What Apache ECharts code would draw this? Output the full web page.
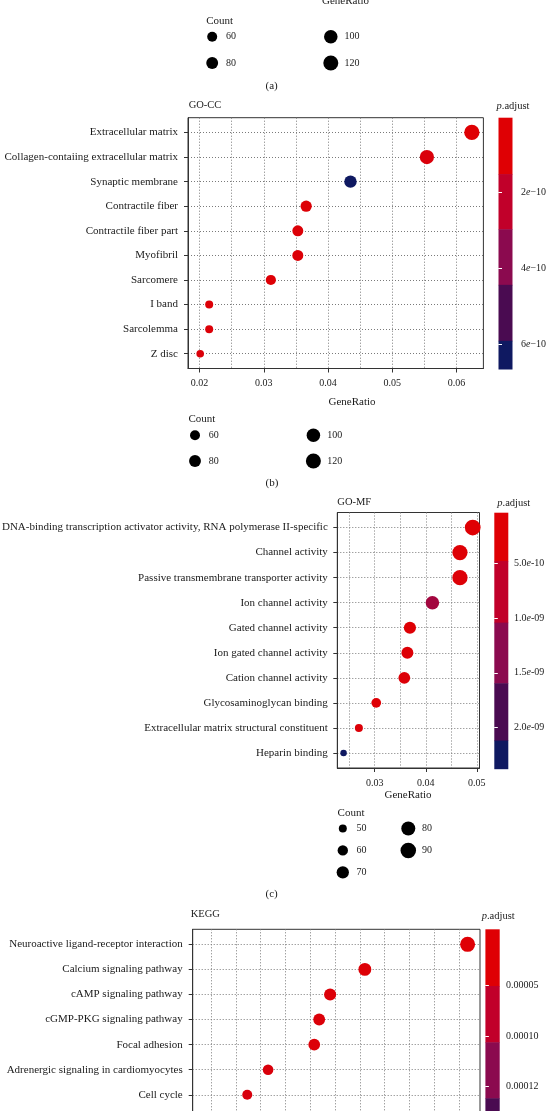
<!DOCTYPE html>
<html><head><meta charset="utf-8">
<script src="https://cdn.jsdelivr.net/npm/echarts@6/dist/echarts.min.js"></script>
<style>html,body{margin:0;padding:0;background:#fff}#c{width:548px;height:1111px}</style>
</head><body><div id="c"></div>
<script>
// ---------------- DATA ----------------
// (a) only the size legend of panel (a) is visible
const aCountLegend = [60, 80, 100, 120];

// (b) GO-CC
const ccTerms = ['Extracellular matrix','Collagen-contaiing extracellular matrix','Synaptic membrane','Contractile fiber','Contractile fiber part','Myofibril','Sarcomere','I band','Sarcolemma','Z disc'];
const ccRatio = [0.0624, 0.0554, 0.0435, 0.0366, 0.0353, 0.0353, 0.0311, 0.0215, 0.0215, 0.0201];
const ccCount = [124, 110, 86, 73, 70, 70, 62, 43, 43, 40];
const ccPadj  = [5e-12, 3.5e-11, 6.65e-10, 1.5e-11, 2.0e-11, 2.0e-11, 1.2e-11, 1.8e-11, 2.2e-11, 2.5e-11];
const ccPLimits = [5e-12, 6.65e-10];
const ccXTicks = [0.02, 0.03, 0.04, 0.05, 0.06];
const ccXGrid = [0.02, 0.025, 0.03, 0.035, 0.04, 0.045, 0.05, 0.055, 0.06];
const ccPTicks = [2e-10, 4e-10, 6e-10];
const ccPTickLabels = ['2e\u221210', '4e\u221210', '6e\u221210'];
const ccBandEdges = [5e-12, 1.53e-10, 2.98e-10, 4.44e-10, 5.91e-10, 6.65e-10];
const ccCountLegend = [60, 80, 100, 120];

// (c) GO-MF
const mfTerms = ['DNA-binding transcription activator activity, RNA polymerase II-specific','Channel activity','Passive transmembrane transporter activity','Ion channel activity','Gated channel activity','Ion gated channel activity','Cation channel activity','Glycosaminoglycan binding','Extracellular matrix structural constituent','Heparin binding'];
const mfRatio = [0.0492, 0.0467, 0.0467, 0.0413, 0.0369, 0.0364, 0.0358, 0.0303, 0.0269, 0.0239];
const mfCount = [92, 88, 88, 77, 69, 68, 67, 57, 50, 45];
const mfPadj  = [3.7e-11, 6e-11, 8e-11, 9.5e-10, 5e-11, 7e-11, 9e-11, 4.5e-11, 1.0e-10, 2.377e-9];
const mfPLimits = [3.7e-11, 2.377e-9];
const mfXTicks = [0.03, 0.04, 0.05];
const mfXGrid = [0.025, 0.03, 0.035, 0.04, 0.045, 0.05];
const mfPTicks = [5e-10, 1e-9, 1.5e-9, 2e-9];
const mfPTickLabels = ['5.0e-10', '1.0e-09', '1.5e-09', '2.0e-09'];
const mfBandEdges = [3.7e-11, 4.78e-10, 1.042e-9, 1.596e-9, 2.12e-9, 2.377e-9];
const mfCountLegend = [50, 60, 70, 80, 90];

// (d) KEGG (lower part cut off by the picture)
const keggTerms = ['Neuroactive ligand-receptor interaction','Calcium signaling pathway','cAMP signaling pathway','cGMP-PKG signaling pathway','Focal adhesion','Adrenergic signaling in cardiomyocytes','Cell cycle'];
const keggRatio = [0.0667, 0.0460, 0.0390, 0.0368, 0.0358, 0.0265, 0.0223];
const keggCount = [60, 41, 35, 33, 32, 24, 20];
const keggPadj  = [1e-6, 4e-6, 6e-6, 8e-6, 7e-6, 1.2e-5, 1.5e-5];
const keggPLimits = [-5.1e-6, 2.47e-4];
const keggXTicks = [0.02, 0.03, 0.04, 0.05, 0.06];
const keggXGrid = [0.015, 0.02, 0.025, 0.03, 0.035, 0.04, 0.045, 0.05, 0.055, 0.06, 0.065];
const keggPTicks = [5e-5, 1e-4, 1.5e-4];
const keggPTickLabels = ['0.00005', '0.00010', '0.00012'];
const keggBandEdges = [-5.1e-6, 5.08e-5, 1.063e-4, 1.615e-4, 2.168e-4, 2.47e-4];

// ---------------- STYLE ----------------
const FONT = '"Liberation Serif","DejaVu Serif",serif';
const BAND_COLORS = ['#DF0004', '#C1002A', '#8B0A4F', '#4A0B51', '#0F1961'];
const TXT = '#1a1a1a';
const GRIDLINE = {show: true, lineStyle: {color: '#7a7a7a', width: 1, type: [1, 2]}};

const option = {animation: false, backgroundColor: '#fff', textStyle: {fontFamily: FONT},
  grid: [], xAxis: [], yAxis: [], series: [], visualMap: [], graphic: []};
const addGrid = g => (option.grid.push(Object.assign({outerBoundsMode: 'none', containLabel: false}, g)), option.grid.length - 1);
const addX = a => (option.xAxis.push(a), option.xAxis.length - 1);
const addY = a => (option.yAxis.push(a), option.yAxis.length - 1);
const sizeFn = (A, B) => c => Math.sqrt(Math.max(A + B * c, 9));

function dotPanel(p) {
  const gi = addGrid({left: p.box[0], top: p.box[1], width: p.box[2], height: p.box[3], show: true,
    borderColor: '#333', borderWidth: 1, backgroundColor: 'rgba(0,0,0,0)'});
  const xi = addX({type: 'value', gridIndex: gi, min: p.xRange[0], max: p.xRange[1], position: 'bottom',
    axisLine: {show: true, onZero: false, lineStyle: {color: '#333', width: 1}},
    axisTick: {show: true, length: 4, customValues: p.xTicks, lineStyle: {color: '#333', width: 1}},
    axisLabel: {show: true, customValues: p.xTicks, margin: 10, color: TXT, fontFamily: FONT, fontSize: 10,
      formatter: v => v.toFixed(2)},
    splitLine: {show: false}});
  addX({type: 'value', gridIndex: gi, min: p.xRange[0], max: p.xRange[1], position: 'top',
    axisLine: {show: false}, axisTick: {show: false, customValues: p.xGrid},
    axisLabel: {show: false, customValues: p.xGrid}, splitLine: GRIDLINE});
  const idx = p.terms.map((t, i) => i);
  const yi = addY({type: 'value', gridIndex: gi, inverse: true, min: -0.6, max: p.slots - 0.4, position: 'left',
    axisLine: {show: true, onZero: false, lineStyle: {color: '#333', width: 1}},
    axisTick: {show: true, length: 4, customValues: idx, lineStyle: {color: '#333', width: 1}},
    axisLabel: {show: true, customValues: idx, margin: p.yMargin, color: TXT, fontFamily: FONT, fontSize: 11,
      formatter: v => p.terms[Math.round(v)]},
    splitLine: GRIDLINE});
  option.series.push({type: 'scatter', xAxisIndex: xi, yAxisIndex: yi, z: 4, clip: false,
    data: p.ratio.map((r, i) => [r, i, p.padj[i], p.count[i]]),
    symbolSize: d => p.size(d[3]), itemStyle: {opacity: 1}});
  option.visualMap.push({type: 'continuous', show: false, seriesIndex: option.series.length - 1, dimension: 2,
    min: p.pLimits[0], max: p.pLimits[1], inRange: {color: BAND_COLORS}});
}

function richLabel(s) {
  const k = s.indexOf('e');
  if (k < 0) return '{n|' + s + '}';
  return '{n|' + s.slice(0, k) + '}{i|e}{n|' + s.slice(k + 1) + '}';
}
function idxOf(arr, v) {
  for (let i = 0; i < arr.length; i++) if (Math.abs(arr[i] - v) <= Math.abs(arr[i]) * 1e-6) return i;
  return -1;
}

function colorbar(p) {
  const gi = addGrid({left: p.box[0], top: p.box[1], width: p.box[2], height: p.box[3], show: false});
  const xi = addX({type: 'value', gridIndex: gi, min: 0, max: 1, show: false});
  const tick = {show: true, inside: true, length: 3.5, customValues: p.ticks, lineStyle: {color: '#fff', width: 1}};
  const yR = addY({type: 'value', gridIndex: gi, inverse: true, min: p.limits[0], max: p.limits[1], position: 'right', z: 6,
    axisLine: {show: false}, axisTick: tick, splitLine: {show: false},
    axisLabel: {show: true, customValues: p.ticks, margin: p.labelMargin,
      formatter: v => { const i = idxOf(p.ticks, v); return i < 0 ? '' : richLabel(p.labels[i]); },
      rich: {n: {fontFamily: FONT, fontSize: 10, color: TXT}, i: {fontFamily: FONT, fontSize: 10, color: TXT, fontStyle: 'italic'}}}});
  addY({type: 'value', gridIndex: gi, inverse: true, min: p.limits[0], max: p.limits[1], position: 'left', z: 6,
    axisLine: {show: false}, axisTick: tick, axisLabel: {show: false, customValues: p.ticks}, splitLine: {show: false}});
  const bands = [];
  for (let i = 0; i < p.edges.length - 1; i++) bands.push([p.edges[i], p.edges[i + 1], i]);
  option.series.push({type: 'custom', xAxisIndex: xi, yAxisIndex: yR, z: 2, data: bands,
    renderItem: (params, api) => {
      const a = api.coord([0, api.value(0)]);
      const b = api.coord([1, api.value(1)]);
      return {type: 'rect', shape: {x: a[0], y: a[1], width: b[0] - a[0], height: b[1] - a[1] + 0.5},
        style: {fill: BAND_COLORS[api.value(2)]}};
    }});
}

function sizeLegend(p) {
  const gi = addGrid({left: p.box[0], top: p.box[1], width: p.box[2], height: p.box[3], show: false});
  const cols = Math.ceil(p.values.length / p.rows);
  const xi = addX({type: 'category', gridIndex: gi, data: [...Array(cols).keys()].map(String), show: false});
  const yi = addY({type: 'category', gridIndex: gi, data: [...Array(p.rows).keys()].map(String), inverse: true, show: false});
  option.series.push({type: 'scatter', xAxisIndex: xi, yAxisIndex: yi, z: 4, itemStyle: {color: '#000', opacity: 1},
    data: p.values.map((v, i) => {
      const s = p.size(v);
      return {value: [Math.floor(i / p.rows), i % p.rows, v], symbolSize: s,
        label: {show: true, position: [s / 2 + 13.8, s / 2], formatter: String(v), align: 'left',
          verticalAlign: 'middle', fontFamily: FONT, fontSize: 10, color: TXT}};
    })});
}

function txt(x, y, s, size, align) {
  option.graphic.push({type: 'text', x: x, y: y, z: 20, style: {text: s, fill: TXT, font: size + 'px ' + FONT,
    fontSize: size, fontFamily: FONT, textAlign: align || 'left', align: align || 'left',
    textVerticalAlign: 'middle', verticalAlign: 'middle'}});
}
function padjTitle(x, y) {
  option.graphic.push({type: 'text', x: x, y: y, z: 20, style: {text: '{i|p}{n|.adjust}',
    textVerticalAlign: 'middle', verticalAlign: 'middle', align: 'left', textAlign: 'left',
    rich: {i: {fontFamily: FONT, fontSize: 10.5, fontStyle: 'italic', fill: TXT, color: TXT},
           n: {fontFamily: FONT, fontSize: 10.5, fill: TXT, color: TXT}}}});
}

// ---------------- LAYOUT ----------------
const ccSize = sizeFn(-25, 2.083);
const mfSize = sizeFn(-156, 4.4);
const keggSize = sizeFn(37.5, 3.125);

// panel (a) remnant
txt(345.5, 1, 'GeneRatio', 11, 'center');
txt(206.2, 21.3, 'Count', 11);
sizeLegend({box: [152.9, 23.55, 237.2, 52.6], values: aCountLegend, rows: 2, size: ccSize});
txt(271.6, 85.7, '(a)', 11, 'center');

// panel (b)
dotPanel({box: [188, 117.7, 295.4, 250.8], xRange: [0.0182, 0.0642], xTicks: ccXTicks, xGrid: ccXGrid,
  terms: ccTerms, ratio: ccRatio, count: ccCount, padj: ccPadj, pLimits: ccPLimits, slots: 10, yMargin: 10, size: ccSize});
colorbar({box: [498.5, 117.7, 14, 251.3], limits: ccPLimits, ticks: ccPTicks, labels: ccPTickLabels, edges: ccBandEdges, labelMargin: 8.5});
txt(188.7, 105.7, 'GO-CC', 10.5);
padjTitle(496.5, 106);
txt(352, 401.7, 'GeneRatio', 11, 'center');
txt(188.4, 419.3, 'Count', 11);
sizeLegend({box: [135.8, 422.45, 236.8, 51.4], values: ccCountLegend, rows: 2, size: ccSize});
txt(272, 483.3, '(b)', 11, 'center');

// panel (c)
dotPanel({box: [337.3, 512.5, 142.2, 255.5], xRange: [0.02267, 0.05053], xTicks: mfXTicks, xGrid: mfXGrid,
  terms: mfTerms, ratio: mfRatio, count: mfCount, padj: mfPadj, pLimits: mfPLimits, slots: 10, yMargin: 9.5, size: mfSize});
colorbar({box: [494.3, 512.7, 14, 256], limits: mfPLimits, ticks: mfPTicks, labels: mfPTickLabels, edges: mfBandEdges, labelMargin: 5.7});
txt(337.3, 502.3, 'GO-MF', 10.5);
padjTitle(497.3, 503.3);
txt(408, 795.3, 'GeneRatio', 11, 'center');
txt(337.6, 812.7, 'Count', 11);
sizeLegend({box: [310.05, 817.55, 131, 65.7], values: mfCountLegend, rows: 3, size: mfSize});
txt(271.6, 894.3, '(c)', 11, 'center');

// panel (d)
dotPanel({box: [192.7, 929.3, 287.3, 255.7], xRange: [0.01131, 0.0692], xTicks: keggXTicks, xGrid: keggXGrid,
  terms: keggTerms, ratio: keggRatio, count: keggCount, padj: keggPadj, pLimits: [0, 2.47e-4], slots: 10, yMargin: 10, size: keggSize});
colorbar({box: [485.4, 929.3, 14.3, 255.7], limits: keggPLimits, ticks: keggPTicks, labels: keggPTickLabels, edges: keggBandEdges, labelMargin: 6.3});
txt(190.7, 914, 'KEGG', 10.5);
padjTitle(481.7, 916.7);

const chart = echarts.init(document.getElementById('c'), null, {renderer: 'canvas', width: 548, height: 1111});
chart.setOption(option);
</script>
</body></html>
